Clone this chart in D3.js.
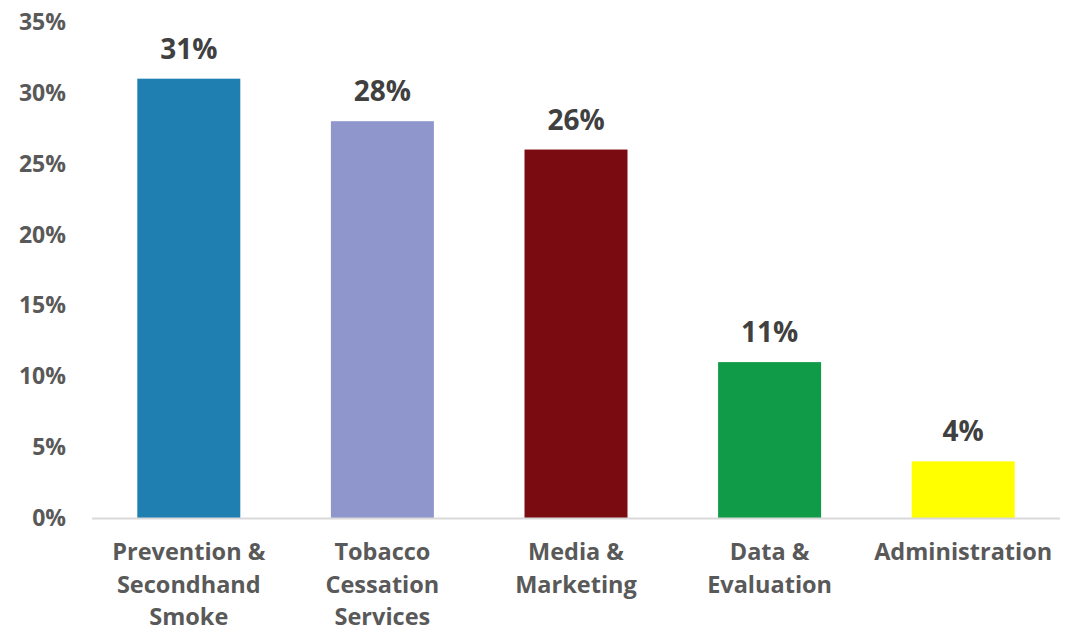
<!DOCTYPE html>
<html>
<head>
<meta charset="utf-8">
<script src="https://cdn.jsdelivr.net/npm/d3@7"></script>
<style>
    body { margin: 0; background: #fff; }
    svg { display: block; font-family: "Open Sans", sans-serif; font-weight: bold; }
</style>
</head>
<body>
<div id="chart"></div>
<script>
const categories = [
    ['Prevention &', 'Secondhand', 'Smoke'],
    ['Tobacco', 'Cessation', 'Services'],
    ['Media &', 'Marketing'],
    ['Data &', 'Evaluation'],
    ['Administration']
];
const values = [31, 28, 26, 11, 4];
const colors = ['#1f7fb0', '#8f96cc', '#7a0c11', '#109b48', '#ffff00'];
const yTicks = [0, 5, 10, 15, 20, 25, 30, 35];

const width = 1076, height = 630;
const margin = { top: 22, right: 16, bottom: 112, left: 92 };

const svg = d3.select('#chart').append('svg')
    .attr('width', width)
    .attr('height', height);

const x = d3.scaleBand()
    .domain(d3.range(values.length))
    .range([margin.left, width - margin.right])
    .paddingInner(0.468)
    .paddingOuter(0.234);

const y = d3.scaleLinear()
    .domain([0, 35])
    .range([height - margin.bottom, margin.top]);

// y tick labels (no axis line)
svg.append('g')
    .selectAll('text')
    .data(yTicks)
    .join('text')
    .attr('x', 66)
    .attr('y', d => y(d))
    .attr('dy', '0.35em')
    .attr('text-anchor', 'end')
    .attr('fill', '#595959')
    .attr('font-size', 23)
    .text(d => d + '%');

// bars
svg.append('g')
    .selectAll('rect')
    .data(values)
    .join('rect')
    .attr('x', (d, i) => x(i))
    .attr('y', d => y(d))
    .attr('width', x.bandwidth())
    .attr('height', d => y(0) - y(d))
    .attr('fill', (d, i) => colors[i]);

// baseline
svg.append('line')
    .attr('x1', margin.left)
    .attr('x2', width - margin.right)
    .attr('y1', y(0) + 0.5)
    .attr('y2', y(0) + 0.5)
    .attr('stroke', '#d9d9d9')
    .attr('stroke-width', 2);

// value labels
svg.append('g')
    .selectAll('text')
    .data(values)
    .join('text')
    .attr('x', (d, i) => x(i) + x.bandwidth() / 2)
    .attr('y', d => y(d) - 20)
    .attr('text-anchor', 'middle')
    .attr('fill', '#404040')
    .attr('font-size', 28)
    .text(d => d + '%');

// category labels
const cat = svg.append('g')
    .selectAll('text')
    .data(categories)
    .join('text')
    .attr('x', (d, i) => x(i) + x.bandwidth() / 2)
    .attr('y', y(0) + 42)
    .attr('text-anchor', 'middle')
    .attr('fill', '#595959')
    .attr('font-size', 23.5);

cat.selectAll('tspan')
    .data(d => d)
    .join('tspan')
    .attr('x', function () { return d3.select(this.parentNode).attr('x'); })
    .attr('dy', (d, i) => i === 0 ? 0 : 32.5)
    .text(d => d);
</script>
</body>
</html>
